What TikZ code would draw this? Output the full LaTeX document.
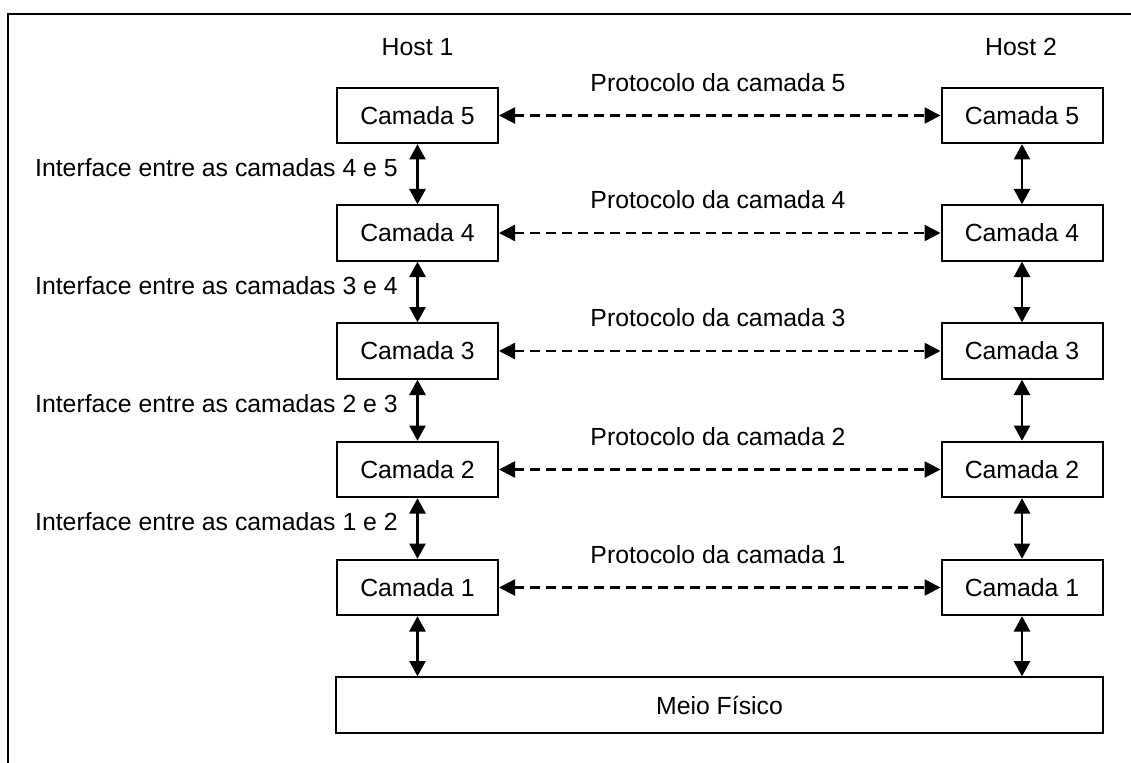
\documentclass[tikz,border=0pt]{standalone}
\usepackage{fontspec}
\setmainfont{Liberation Sans}
\usetikzlibrary{arrows.meta}

\tikzset{
  layerbox/.style={draw, line width=1.5pt, minimum width=120.75pt, minimum height=41.5pt,
                   inner sep=0pt, font=\fontsize{18.6}{22}\selectfont},
  lbl/.style={inner sep=0pt, font=\fontsize{18.6}{22}\selectfont},
  iface/.style={lbl, anchor=east},
  vlink/.style={line width=2pt, {Triangle[length=11.5pt,width=12pt]}-{Triangle[length=11.5pt,width=12pt]}},
  plink/.style={line width=1.9pt, dash pattern=on 7.5pt off 4.5pt,
                {Triangle[length=12pt,width=12pt]}-{Triangle[length=12pt,width=12pt]}}
}

\begin{document}
\begin{tikzpicture}[x=0.75pt,y=-0.75pt]
  \useasboundingbox (0,0) rectangle (1131,763);
  % outer frame (top and left edges)
  \draw[line width=2.2pt] (8,770) -- (8,14) -- (1140,14);

  % host titles
  \node[lbl] (h1) at (417.5,47) {Host 1};
  \node[lbl] (h2) at (1021,47) {Host 2};

  % layer stacks
  \foreach \i/\y in {5/115.5, 4/233, 3/351, 2/469.5, 1/587.5} {
    \node[layerbox] (a\i) at (417.5,\y) {Camada \i};
    \node[layerbox] (b\i) at (1022,\y) {Camada \i};
    \node[lbl] (p\i) at (718,\y-33) {Protocolo da camada \i};
    \draw[plink] (a\i.east) -- (b\i.west);
  }

  % physical medium
  \node[draw, line width=1.5pt, minimum width=575.25pt, minimum height=41.5pt, inner sep=0pt,
        font=\fontsize{18.6}{22}\selectfont] (m) at (719.5,705) {Meio Físico};

  % interfaces between adjacent layers
  \foreach \u/\l in {5/4, 4/3, 3/2, 2/1} {
    \draw[vlink] (a\u.south) -- (a\l.north);
    \draw[vlink] (b\u.south) -- (b\l.north);
  }
  \draw[vlink] (a1.south) -- (a1.south |- m.north);
  \draw[vlink] (b1.south) -- (b1.south |- m.north);

  % interface labels
  \node[iface] (i45) at (398,168) {Interface entre as camadas 4 e 5};
  \node[iface] (i34) at (398,286) {Interface entre as camadas 3 e 4};
  \node[iface] (i23) at (398,404) {Interface entre as camadas 2 e 3};
  \node[iface] (i12) at (398,522) {Interface entre as camadas 1 e 2};
\end{tikzpicture}
\end{document}
